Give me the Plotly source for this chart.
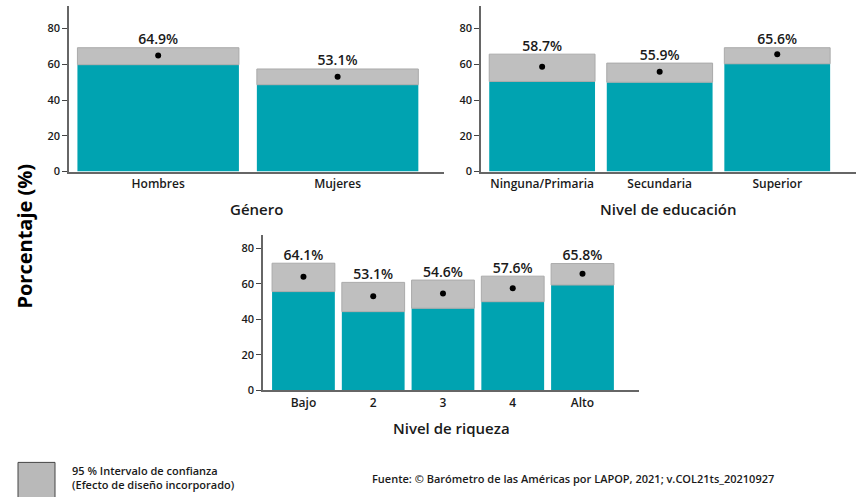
import plotly.graph_objects as go

# ---- data ----
gen_cats = ["Hombres", "Mujeres"]
gen_mean = [64.9, 53.1]
gen_low = [59.8, 48.6]
gen_high = [69.3, 57.4]

edu_cats = ["Ninguna/Primaria", "Secundaria", "Superior"]
edu_mean = [58.7, 55.9, 65.6]
edu_low = [50.4, 50.0, 60.3]
edu_high = [65.7, 60.7, 69.3]

riq_cats = ["Bajo", "2", "3", "4", "Alto"]
riq_mean = [64.1, 53.1, 54.6, 57.6, 65.8]
riq_low = [55.7, 44.4, 46.3, 50.0, 59.4]
riq_high = [71.7, 60.9, 62.2, 64.4, 71.5]

panel_titles = ["Género", "Nivel de educación", "Nivel de riqueza"]
y_ticks = [0, 20, 40, 60, 80]
y_title = "Porcentaje (%)"
legend_lines = ["95 % Intervalo de confianza", "(Efecto de diseño incorporado)"]
source = "Fuente: © Barómetro de las Américas por LAPOP, 2021; v.COL21ts_20210927"

# ---- style ----
W, H = 862, 497
TEAL = "rgb(0,163,177)"
GREY = "rgb(191,191,191)"
GREY_EDGE = "rgb(170,170,170)"
TXT = "#1a1a1a"
FONT = "Open Sans"

def fx(px):
    return px / W

def fy(py):
    return 1 - py / H

fig = go.Figure()

panels = [
    (gen_cats, gen_mean, gen_low, gen_high, "", (69, 444), (174, 6), 92.7, (-0.497, 1.593)),
    (edu_cats, edu_mean, edu_low, edu_high, "2", (481, 856), (174, 6), 92.7, (-0.52, 2.67)),
    (riq_cats, riq_mean, riq_low, riq_high, "3", (263, 639), (396, 238), 87.8, (-0.58, 4.81)),
]

for i, (cats, mean, low, high, ax, xd, yd, ytop, xr) in enumerate(panels):
    xa = "x" + ax
    ya = "y" + ax
    fig.add_trace(go.Bar(x=cats, y=low, base=[0] * len(cats), marker=dict(color=TEAL, line=dict(width=0)),
                         width=0.9, xaxis=xa, yaxis=ya, showlegend=False, hoverinfo="skip"))
    fig.add_trace(go.Bar(x=cats, y=[h - l for h, l in zip(high, low)], base=low,
                         marker=dict(color=GREY, line=dict(color=GREY_EDGE, width=1)),
                         width=0.9, xaxis=xa, yaxis=ya, showlegend=False, hoverinfo="skip"))
    fig.add_trace(go.Scatter(x=cats, y=mean, mode="markers", marker=dict(color="black", size=6),
                             xaxis=xa, yaxis=ya, showlegend=False, hoverinfo="skip"))
    fig.add_trace(go.Scatter(x=cats, y=high, mode="text", text=[f"{m:.1f}%" for m in mean],
                             textposition="top center",
                             textfont=dict(family=FONT, size=14, color=TXT, weight=600),
                             xaxis=xa, yaxis=ya, showlegend=False, hoverinfo="skip"))
    xkey = "xaxis" + ax
    ykey = "yaxis" + ax
    fig.layout[xkey] = dict(domain=[fx(xd[0]), fx(xd[1])], anchor=ya, range=list(xr), type="category",
                            showline=True, linecolor="#666", linewidth=1.5, ticks="",
                            showgrid=False, zeroline=False,
                            tickfont=dict(family=FONT, size=12, color=TXT, weight=600))
    fig.layout[ykey] = dict(domain=[fy(yd[0]), fy(yd[1])], anchor=xa, range=[0, ytop],
                            showline=True, linecolor="#666", linewidth=1.5, ticks="outside",
                            ticklen=5, tickcolor="#444", tickwidth=1, tickvals=y_ticks,
                            showgrid=False, zeroline=False,
                            tickfont=dict(family=FONT, size=11, color=TXT, weight=600))
    fig.add_annotation(text=panel_titles[i], xref="paper", yref="paper",
                       x=fx((xd[0] + xd[1]) / 2), y=fy(yd[0] + 38), showarrow=False,
                       xanchor="center", yanchor="middle",
                       font=dict(family=FONT, size=15, color=TXT, weight=600))

fig.add_annotation(text=y_title, xref="paper", yref="paper", x=fx(25), y=fy(240),
                   textangle=-90, showarrow=False, xanchor="center", yanchor="middle",
                   font=dict(family=FONT, size=20, color="black", weight=700))

fig.add_shape(type="rect", xref="paper", yref="paper", x0=fx(18), x1=fx(55), y0=fy(505), y1=fy(469),
              fillcolor="rgb(185,185,185)", line=dict(color="#444", width=1))
fig.add_annotation(text="<br>".join(legend_lines), xref="paper", yref="paper", x=fx(70), y=fy(484),
                   showarrow=False, xanchor="left", yanchor="middle", align="left",
                   font=dict(family=FONT, size=11, color=TXT, weight=600))
fig.add_annotation(text=source, xref="paper", yref="paper", x=fx(370), y=fy(485),
                   showarrow=False, xanchor="left", yanchor="middle",
                   font=dict(family=FONT, size=11, color=TXT, weight=600))

fig.update_layout(width=W, height=H, margin=dict(l=0, r=0, t=0, b=0),
                  paper_bgcolor="white", plot_bgcolor="white", barmode="overlay", bargap=0.1)

fig.write_html("out.html", config={"displayModeBar": False},
               post_script="document.body.style.margin='0';document.body.style.overflow='hidden';")
